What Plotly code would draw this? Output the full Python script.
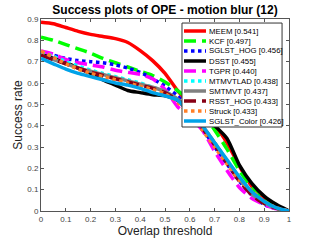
import plotly.graph_objects as go

thresholds = [round(i * 0.05, 2) for i in range(21)]

names = ["MEEM", "KCF", "SGLST_HOG", "DSST", "TGPR", "MTMVTLAD", "SMTMVT", "RSST_HOG", "Struck", "SGLST_Color"]
scores = ["0.541", "0.497", "0.456", "0.455", "0.440", "0.438", "0.437", "0.433", "0.433", "0.426"]

meem = [0.885, 0.878, 0.86, 0.842, 0.828, 0.818, 0.808, 0.79, 0.752, 0.705, 0.645, 0.565, 0.50, 0.45, 0.40, 0.32, 0.21, 0.115, 0.055, 0.02, 0.0]
kcf = [0.815, 0.80, 0.78, 0.76, 0.74, 0.715, 0.695, 0.675, 0.655, 0.635, 0.605, 0.565, 0.52, 0.46, 0.38, 0.29, 0.19, 0.11, 0.05, 0.015, 0.0]
sglst_hog = [0.745, 0.73, 0.715, 0.705, 0.70, 0.695, 0.685, 0.67, 0.65, 0.62, 0.585, 0.54, 0.47, 0.39, 0.30, 0.22, 0.14, 0.075, 0.03, 0.01, 0.0]
dsst = [0.735, 0.715, 0.695, 0.67, 0.645, 0.615, 0.59, 0.565, 0.555, 0.545, 0.54, 0.52, 0.49, 0.45, 0.40, 0.34, 0.215, 0.13, 0.07, 0.03, 0.0]
tgpr = [0.75, 0.735, 0.71, 0.695, 0.685, 0.675, 0.66, 0.65, 0.64, 0.62, 0.57, 0.49, 0.44, 0.38, 0.28, 0.19, 0.11, 0.06, 0.03, 0.01, 0.0]
mtmvtlad = [0.745, 0.725, 0.70, 0.68, 0.66, 0.645, 0.63, 0.615, 0.60, 0.58, 0.56, 0.525, 0.47, 0.40, 0.32, 0.235, 0.15, 0.08, 0.04, 0.012, 0.0]
smtmvt = [0.73, 0.71, 0.69, 0.67, 0.655, 0.64, 0.625, 0.61, 0.595, 0.58, 0.56, 0.525, 0.47, 0.40, 0.32, 0.235, 0.15, 0.08, 0.04, 0.012, 0.0]
rsst_hog = [0.73, 0.71, 0.69, 0.67, 0.65, 0.635, 0.62, 0.605, 0.59, 0.575, 0.555, 0.52, 0.46, 0.39, 0.31, 0.225, 0.14, 0.075, 0.035, 0.012, 0.0]
struck = [0.75, 0.72, 0.69, 0.665, 0.645, 0.63, 0.615, 0.60, 0.585, 0.57, 0.55, 0.51, 0.45, 0.38, 0.30, 0.22, 0.145, 0.095, 0.045, 0.015, 0.0]
sglst_color = [0.715, 0.69, 0.665, 0.645, 0.63, 0.615, 0.60, 0.59, 0.575, 0.555, 0.54, 0.52, 0.46, 0.40, 0.32, 0.24, 0.16, 0.09, 0.045, 0.015, 0.0]

series = [meem, kcf, sglst_hog, dsst, tgpr, mtmvtlad, smtmvt, rsst_hog, struck, sglst_color]

colors = ["#FF0000", "#00FF00", "#0000FF", "#000000", "#FF00FF", "#00FFFF", "#808080", "#880015", "#FF7F27", "#00A2E8"]
dashes = ["solid", "12px,6px", "dot", "solid", "12px,6px", "dot", "solid", "12px,6px", "dot", "solid"]

x_ticks = [round(i * 0.1, 1) for i in range(11)]
y_ticks = [round(i * 0.1, 1) for i in range(10)]

FONT = "Liberation Sans, Arial, Helvetica, sans-serif"
LW = 3.5

fig = go.Figure()
for name, vals, c, d in zip(names, series, colors, dashes):
    fig.add_trace(go.Scatter(x=thresholds, y=vals, mode="lines", name=name,
                             line=dict(color=c, width=LW, dash=d, shape="spline", smoothing=0.6),
                             showlegend=False))

# compact legend box (paper coordinates)
L, R, T, B = 0.5685, 0.972, 0.979, 0.4375
shapes = [dict(type="rect", xref="paper", yref="paper", x0=L, x1=R, y0=B, y1=T,
               fillcolor="white", line=dict(color="#333333", width=1), layer="above")]
annotations = []
row_h = 10.0 / 192.0
first_y = (211 - 31) / 192.0
for i, (name, sc, c, d) in enumerate(zip(names, scores, colors, dashes)):
    yy = first_y - i * row_h
    shapes.append(dict(type="line", xref="paper", yref="paper",
                       x0=(184 - 41) / 248.0, x1=(206 - 41) / 248.0, y0=yy, y1=yy,
                       line=dict(color=c, width=LW, dash=d), layer="above"))
    annotations.append(dict(xref="paper", yref="paper", x=(207 - 41) / 248.0, y=yy,
                            text=f"{name} [{sc}]", showarrow=False, xanchor="left", yanchor="middle",
                            font=dict(family=FONT, size=7.8, color="#000000")))

axis_common = dict(showline=True, linecolor="#555555", linewidth=1, mirror="allticks",
                   ticks="inside", ticklen=3, tickcolor="#555555", showgrid=False, zeroline=False,
                   automargin=False,
                   tickfont=dict(family=FONT, size=8, color="#444444"))

fig.update_layout(
    width=320, height=240,
    margin=dict(l=41, r=31, t=19, b=29, autoexpand=False),
    paper_bgcolor="white", plot_bgcolor="white",
    title=dict(text="<b>Success plots of OPE - motion blur (12)</b>", x=165 / 320, xanchor="center",
               y=1 - 10 / 240, yanchor="middle", font=dict(family=FONT, size=12, color="#000000")),
    xaxis=dict(range=[0, 1], tickvals=x_ticks, ticktext=[("%g" % v) for v in x_ticks],
               title=dict(text="Overlap threshold", font=dict(family=FONT, size=12, color="#222222"), standoff=4),
               **axis_common),
    yaxis=dict(range=[0, 0.9], tickvals=y_ticks, ticktext=[("%g" % v) for v in y_ticks],
               title=dict(text="Success rate", font=dict(family=FONT, size=12, color="#222222"), standoff=2),
               **axis_common),
    shapes=shapes, annotations=annotations, showlegend=False,
)

fig.write_html("out.html", config={"displayModeBar": False},
               post_script="document.body.style.margin='0';document.body.style.overflow='hidden';")
